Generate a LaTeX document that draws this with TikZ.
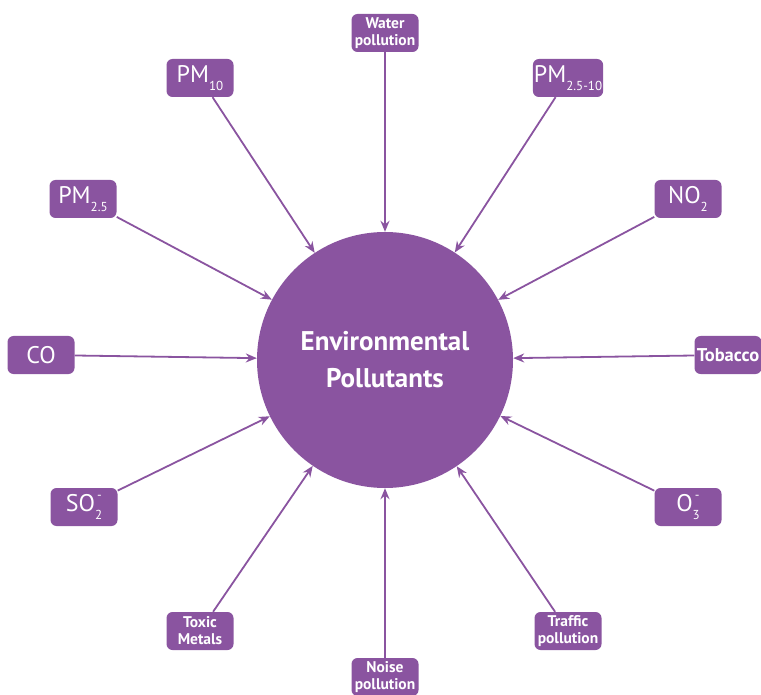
\documentclass[tikz,border=0pt]{standalone}
\usepackage{fontspec}
\setmainfont{PT Sans}
\usetikzlibrary{arrows.meta}

\definecolor{pollpurple}{RGB}{138,84,160}
% lowered index, and index with a charge above it
\newcommand\lo[1]{\raisebox{-0.7ex}{\fontsize{13}{13}\selectfont #1}}
\newcommand\lohi[2]{\rlap{\raisebox{1.0ex}{\fontsize{13}{13}\selectfont\,#2}}\raisebox{-0.7ex}{\fontsize{13}{13}\selectfont #1}}

\begin{document}
\begin{tikzpicture}[x=1pt,y=-1pt,
  pollutant/.style={fill=pollpurple,text=white,rounded corners=6pt,
    minimum width=67pt,minimum height=38pt,inner sep=1pt,align=center},
  big/.style={pollutant,font=\fontsize{24}{26}\selectfont},
  small/.style={pollutant,font=\bfseries\fontsize{15.5}{17}\selectfont},
  link/.style={pollpurple,line width=1.8pt,-{Stealth[length=11pt,width=9pt]}}]
  \useasboundingbox (0,0) rectangle (761,695);

  \node[circle,fill=pollpurple,minimum size=256pt,text=white,align=center,
    font=\bfseries\fontsize{27}{37}\selectfont] (env) at (385,360)
    {Environmental\\Pollutants};

  % pollutants round the circle
  \node[small] (water)    at (385,33)  {Water\\pollution};
  \node[big]   (pmten)    at (200,78)  {PM\lo{10}};
  \node[big]   (pmcoarse) at (568,78)  {PM\lo{2.5-10}};
  \node[big]   (pmfine)   at (83,199)  {PM\lo{2.5}};
  \node[big]   (no)       at (688,199) {NO\lo{2}};
  \node[big]   (co)       at (41,355)  {CO};
  \node[small,font=\bfseries\fontsize{18.5}{20}\selectfont] (tobacco) at (728,355) {Tobacco};
  \node[big]   (so)       at (84,507)  {SO\lohi{2}{-}};
  \node[big]   (ozone)    at (688,507) {O\lohi{3}{-}};
  \node[small] (metals)   at (200,631) {Toxic\\Metals};
  \node[small] (traffic)  at (568,631) {Traffic\\pollution};
  \node[small] (noise)    at (385,677) {Noise\\pollution};

  \foreach \src in {water,pmten,pmcoarse,pmfine,no,co,tobacco,so,ozone,metals,traffic,noise}
    \draw[link] (\src) -- (env);
\end{tikzpicture}
\end{document}
